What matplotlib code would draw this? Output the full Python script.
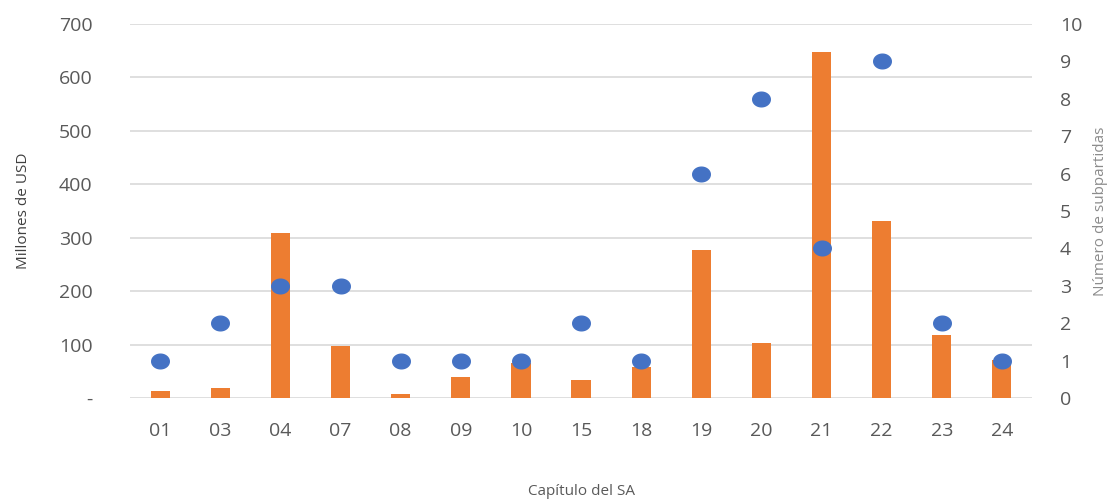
import matplotlib
matplotlib.use("Agg")
import matplotlib.pyplot as plt
from matplotlib.ticker import FuncFormatter
from matplotlib.path import Path
import numpy as np

plt.rcParams['font.family'] = ['Open Sans', 'DejaVu Sans']

# data
capitulos = ["01", "03", "04", "07", "08", "09", "10", "15", "18", "19", "20", "21", "22", "23", "24"]
millones_usd = [13, 18, 309, 97, 8, 39, 65, 34, 58, 277, 103, 648, 331, 118, 71]
subpartidas = [1, 2, 3, 3, 1, 1, 1, 2, 1, 6, 8, 4, 9, 2, 1]

gris = "#595959"
fig = plt.figure(figsize=(11.12, 5.01), dpi=100)
ax = fig.add_axes([0.117, 0.2056, 0.811, 0.7464])
x = np.arange(len(capitulos))

ax.bar(x, millones_usd, width=0.32, color="#ED7D31", zorder=2)
ax.set_ylim(0, 700)
ax.set_yticks(range(0, 701, 100))
ax.yaxis.set_major_formatter(FuncFormatter(lambda v, p: "-" if v == 0 else f"{int(v)}"))
ax.set_xlim(-0.5, len(capitulos) - 0.5)
ax.set_xticks(x)
ax.set_xticklabels(capitulos)
ax.grid(axis="y", color="#d9d9d9", linewidth=1.2, zorder=0)
ax.tick_params(axis="both", length=0, colors=gris, labelsize=14)
ax.tick_params(axis="x", pad=17)
ax.tick_params(axis="y", pad=27)
for s in ax.spines.values():
    s.set_visible(False)
ax.set_ylabel("Millones de USD", fontsize=11, color="#404040", labelpad=20)
ax.set_xlabel("Capítulo del SA", fontsize=11, color=gris, labelpad=32)

# slightly wide ellipse marker, as in the original
t = np.linspace(0, 2 * np.pi, 60)
elipse = Path(np.column_stack([1.2 * np.cos(t), np.sin(t)]), closed=True)

ax2 = ax.twinx()
ax2.scatter(x, subpartidas, s=160, marker=elipse, color="#4472C4", zorder=3)
ax2.set_ylim(0, 10)
ax2.set_yticks(range(0, 11))
ax2.tick_params(axis="y", length=0, colors=gris, labelsize=14, pad=20)
for s in ax2.spines.values():
    s.set_visible(False)
ax2.set_ylabel("Número de subpartidas", fontsize=11, color="#8c8c8c", labelpad=8)

fig.savefig("out.png", dpi=100)
